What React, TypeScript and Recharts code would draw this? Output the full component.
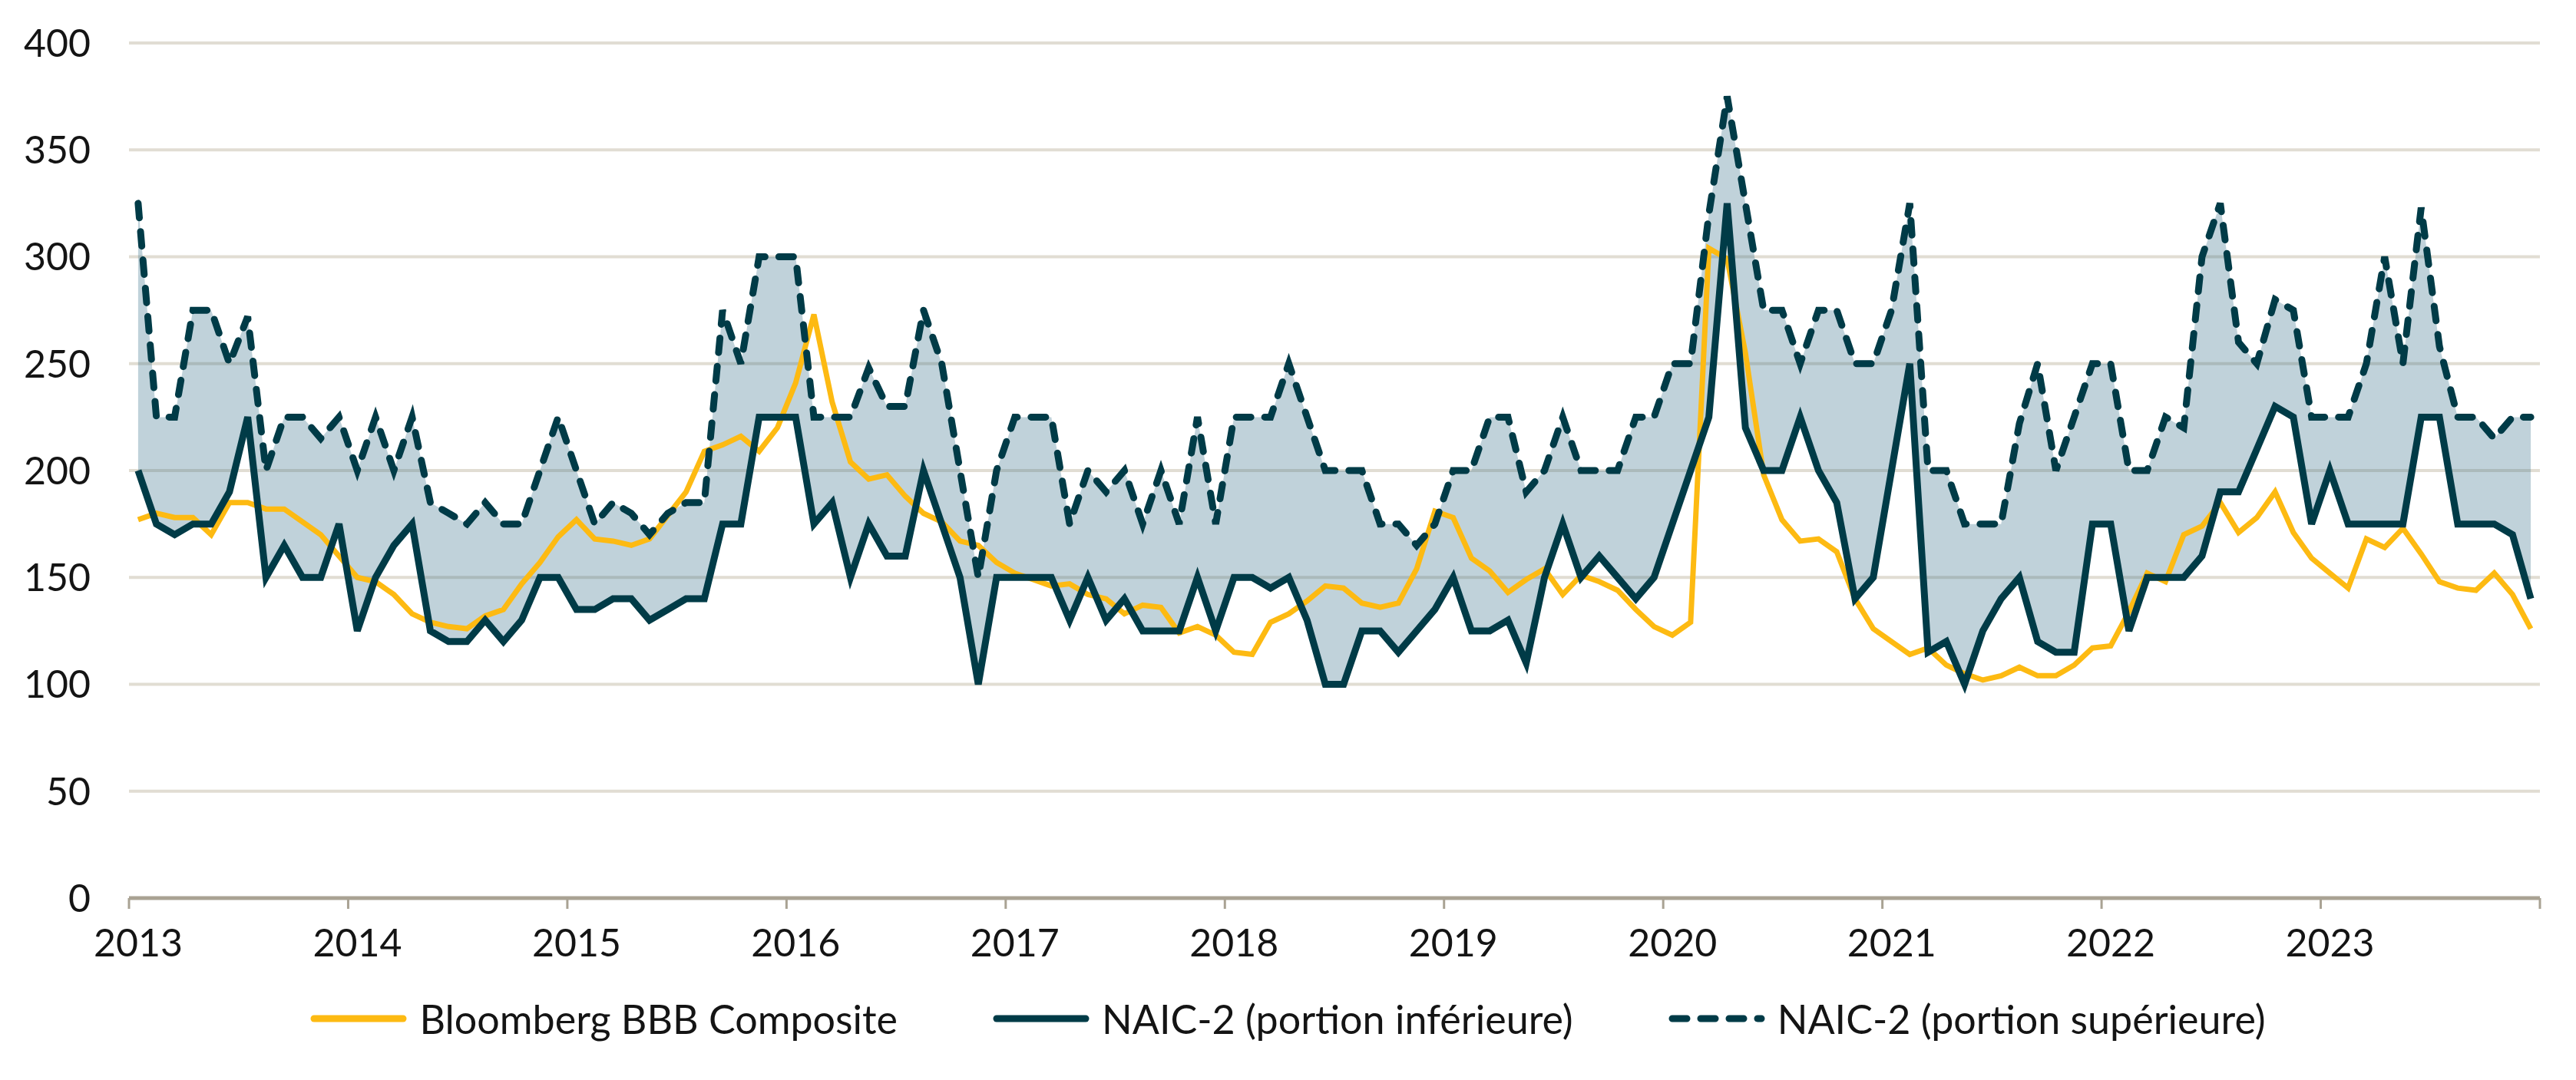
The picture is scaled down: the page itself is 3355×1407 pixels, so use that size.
import React from 'react';
import { ComposedChart, Line, Area, XAxis, YAxis, CartesianGrid } from 'recharts';

const years = [2013, 2014, 2015, 2016, 2017, 2018, 2019, 2020, 2021, 2022, 2023];
const monthNames = ['01', '02', '03', '04', '05', '06', '07', '08', '09', '10', '11', '12'];
const months = years.flatMap((y) => monthNames.map((m) => `${y}-${m}`));

const bbb = [
  177, 180, 178, 178, 170, 185, 185, 182, 182, 176, 170, 160,
  150, 148, 142, 133, 129, 127, 126, 132, 135, 147, 157, 169,
  177, 168, 167, 165, 168, 179, 190, 209, 212, 216, 209, 220,
  241, 273, 232, 204, 196, 198, 188, 180, 176, 167, 165, 157,
  152, 149, 146, 147, 142, 140, 133, 137, 136, 124, 127, 123,
  115, 114, 129, 133, 139, 146, 145, 138, 136, 138, 154, 181,
  178, 159, 153, 143, 149, 154, 142, 151, 148, 144, 135, 127,
  123, 129, 304, 299, 255, 198, 177, 167, 168, 162, 140, 126,
  120, 114, 117, 109, 105, 102, 104, 108, 104, 104, 109, 117,
  118, 134, 152, 148, 170, 174, 185, 171, 178, 190, 171, 159,
  152, 145, 168, 164, 173, 161, 148, 145, 144, 152, 142, 126,
];

const naicLower = [
  200, 175, 170, 175, 175, 190, 225, 150, 165, 150, 150, 175,
  125, 150, 165, 175, 125, 120, 120, 130, 120, 130, 150, 150,
  135, 135, 140, 140, 130, 135, 140, 140, 175, 175, 225, 225,
  225, 175, 185, 150, 175, 160, 160, 200, 175, 150, 100, 150,
  150, 150, 150, 130, 150, 130, 140, 125, 125, 125, 150, 125,
  150, 150, 145, 150, 130, 100, 100, 125, 125, 115, 125, 135,
  150, 125, 125, 130, 110, 150, 175, 150, 160, 150, 140, 150,
  175, 200, 225, 325, 220, 200, 200, 225, 200, 185, 140, 150,
  200, 250, 115, 120, 100, 125, 140, 150, 120, 115, 115, 175,
  175, 125, 150, 150, 150, 160, 190, 190, 210, 230, 225, 175,
  200, 175, 175, 175, 175, 225, 225, 175, 175, 175, 170, 140,
];

const naicUpper = [
  325, 225, 225, 275, 275, 250, 272, 200, 225, 225, 215, 225,
  200, 225, 200, 225, 185, 180, 175, 185, 175, 175, 200, 225,
  200, 175, 185, 180, 170, 180, 185, 185, 275, 250, 300, 300,
  300, 225, 225, 225, 248, 230, 230, 275, 250, 200, 150, 200,
  225, 225, 225, 175, 200, 190, 200, 175, 200, 175, 225, 175,
  225, 225, 225, 250, 225, 200, 200, 200, 175, 175, 165, 175,
  200, 200, 225, 225, 190, 200, 225, 200, 200, 200, 225, 225,
  250, 250, 320, 375, 325, 275, 275, 250, 275, 275, 250, 250,
  275, 325, 200, 200, 175, 175, 175, 222, 250, 200, 225, 250,
  250, 200, 200, 225, 220, 300, 325, 260, 250, 280, 275, 225,
  225, 225, 250, 300, 250, 323, 258, 225, 225, 215, 225, 225,
];

const yTicks = [0, 50, 100, 150, 200, 250, 300, 350, 400];
const xTicks = [2013, 2014, 2015, 2016, 2017, 2018, 2019, 2020, 2021, 2022, 2023, 2024];

const seriesNames = {
  bbb: 'Bloomberg BBB Composite',
  lower: 'NAIC-2 (portion inférieure)',
  upper: 'NAIC-2 (portion supérieure)',
};

const data = months.map((m, i) => {
  const [y, mo] = m.split('-').map(Number);
  return {
    month: m,
    t: y + (mo - 0.5) / 12,
    bbb: bbb[i],
    lower: naicLower[i],
    upper: naicUpper[i],
    range: [naicLower[i], naicUpper[i]],
  };
});

const GOLD = '#FDBA12';
const DARK = '#003B47';
const FILL = '#2d6a85';
const GRID = '#e1ddd3';
const AXIS = '#a9a293';
const TEXT = '#141414';
const FONT = 'Lato, "Open Sans", sans-serif';

const XTick = (props: any) => {
  const { x, y, payload } = props;
  if (payload.value === 2024) return null;
  return (
    <text x={x + 12} y={y} dy="0.71em" textAnchor="middle" fontSize={50} fontFamily={FONT} fill={TEXT}>
      {payload.value}
    </text>
  );
};

const YTick = (props: any) => {
  const { x, y, payload } = props;
  return (
    <text x={x} y={y} dy="0.355em" textAnchor="end" fontSize={50} fontFamily={FONT} fill={TEXT}>
      {payload.value}
    </text>
  );
};

const LegendItem = ({ kind, label }: { kind: 'gold' | 'solid' | 'dash'; label: string }) => (
  <div style={{ display: 'flex', alignItems: 'center', height: 62 }}>
    <svg width={126} height={20} style={{ display: 'block' }}>
      {kind === 'gold' && <line x1={5} y1={10} x2={121} y2={10} stroke={GOLD} strokeWidth={9} strokeLinecap="round" />}
      {kind === 'solid' && <line x1={5} y1={10} x2={121} y2={10} stroke={DARK} strokeWidth={9} strokeLinecap="round" />}
      {kind === 'dash' && (
        <line x1={5} y1={10} x2={121} y2={10} stroke={DARK} strokeWidth={9} strokeLinecap="round" strokeDasharray="19 18" />
      )}
    </svg>
    <span style={{ marginLeft: 16, fontSize: 52, lineHeight: '62px', fontFamily: FONT, color: TEXT, whiteSpace: 'nowrap' }}>
      {label}
    </span>
  </div>
);

export default function App() {
  return (
    <div style={{ position: 'absolute', left: 0, top: 0, width: 3355, height: 1407, background: '#ffffff' }}>
      <ComposedChart
        width={3355}
        height={1407}
        data={data}
        margin={{ top: 56, right: 47, bottom: 137, left: 0 }}
      >
        <CartesianGrid vertical={false} stroke={GRID} strokeWidth={4} />
        <XAxis
          dataKey="t"
          type="number"
          domain={[2013, 2024]}
          ticks={xTicks}
          interval={0}
          allowDataOverflow
          height={100}
          axisLine={{ stroke: AXIS, strokeWidth: 5 }}
          tickLine={{ stroke: AXIS, strokeWidth: 3 }}
          tickSize={14}
          tickMargin={26}
          tick={<XTick />}
        />
        <YAxis
          type="number"
          domain={[0, 400]}
          ticks={yTicks}
          interval={0}
          width={168}
          axisLine={false}
          tickLine={false}
          tickSize={0}
          tickMargin={50}
          tick={<YTick />}
        />
        <Area
          dataKey="range"
          type="linear"
          stroke="none"
          fill={FILL}
          fillOpacity={0.3}
          isAnimationActive={false}
          activeDot={false}
        />
        <Line
          dataKey="bbb"
          name={seriesNames.bbb}
          type="linear"
          stroke={GOLD}
          strokeWidth={7}
          dot={false}
          activeDot={false}
          isAnimationActive={false}
        />
        <Line
          dataKey="lower"
          name={seriesNames.lower}
          type="linear"
          stroke={DARK}
          strokeWidth={9}
          dot={false}
          activeDot={false}
          isAnimationActive={false}
        />
        <Line
          dataKey="upper"
          name={seriesNames.upper}
          type="linear"
          stroke={DARK}
          strokeWidth={9}
          strokeDasharray="19 18"
          strokeLinecap="round"
          dot={false}
          activeDot={false}
          isAnimationActive={false}
        />
      </ComposedChart>
      <div
        style={{
          position: 'absolute',
          left: 0,
          top: 1296,
          width: 3355,
          display: 'flex',
          justifyContent: 'center',
          gap: 124,
        }}
      >
        <LegendItem kind="gold" label={seriesNames.bbb} />
        <LegendItem kind="solid" label={seriesNames.lower} />
        <LegendItem kind="dash" label={seriesNames.upper} />
      </div>
    </div>
  );
}
